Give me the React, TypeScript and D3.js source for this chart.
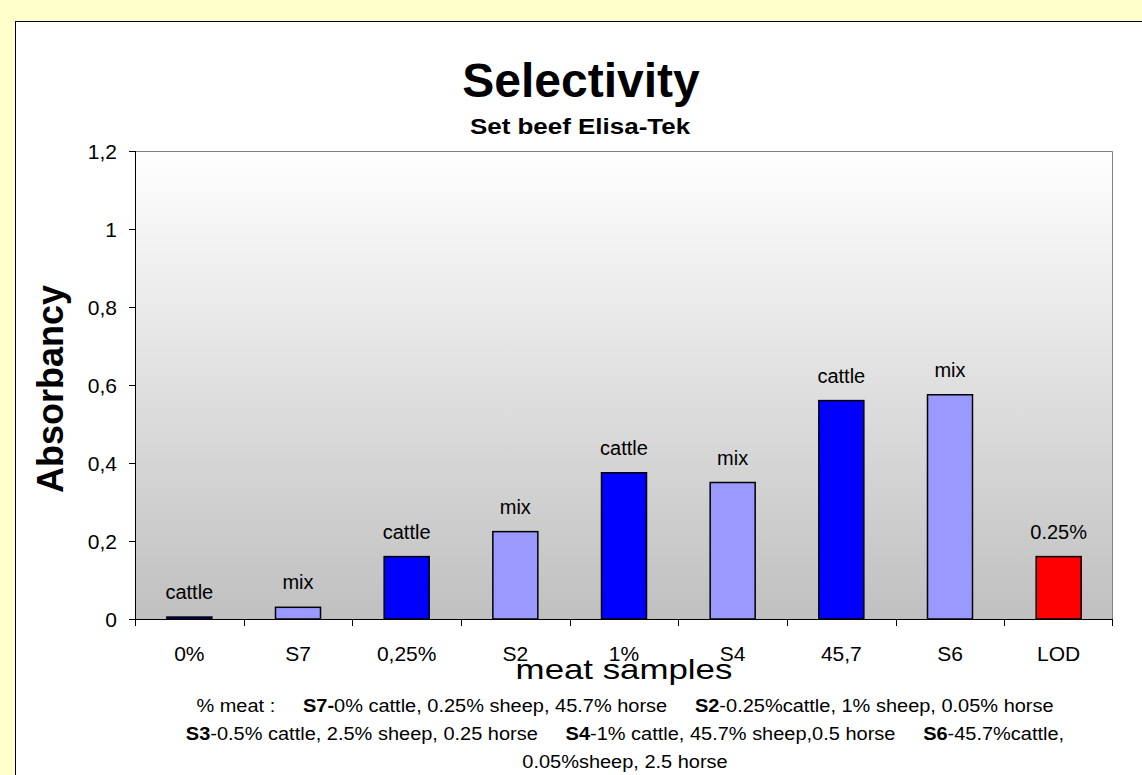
// bar chart: selectivity of the beef Elisa-Tek set
import React from 'react';
import * as d3 from 'd3';

const categories = ['0%', 'S7', '0,25%', 'S2', '1%', 'S4', '45,7', 'S6', 'LOD'];
const absorbancy = [0.005, 0.03, 0.16, 0.224, 0.375, 0.35, 0.56, 0.575, 0.16];
const barLabels = ['cattle', 'mix', 'cattle', 'mix', 'cattle', 'mix', 'cattle', 'mix', '0.25%'];
const barKinds = ['cattle', 'mix', 'cattle', 'mix', 'cattle', 'mix', 'cattle', 'mix', 'lod'];
const yTicks = [0, 0.2, 0.4, 0.6, 0.8, 1, 1.2];

// footnote lines, [text, bold] pieces
const notes = [
    [['% meat :     ', false], ['S7-', true], ['0% cattle, 0.25% sheep, 45.7% horse     ', false], ['S2', true], ['-0.25%cattle, 1% sheep, 0.05% horse', false]],
    [['S3', true], ['-0.5% cattle, 2.5% sheep, 0.25 horse     ', false], ['S4', true], ['-1% cattle, 45.7% sheep,0.5 horse     ', false], ['S6', true], ['-45.7%cattle,', false]],
    [['0.05%sheep, 2.5 horse', false]],
];

const W = 1142;
const H = 775;
const FONT = "'Liberation Sans', Arial, sans-serif";

export default function App() {
    // plot area
    const left = 135, right = 1113, top = 151, bottom = 619;

    const x = d3.scaleBand().domain(categories).range([left, right]).padding(0);
    const y = d3.scaleLinear().domain([0, 1.2]).range([bottom, top]);
    const barW = 45;
    const color = d3.scaleOrdinal().domain(['cattle', 'mix', 'lod']).range(['#0000FF', '#9999FF', '#FF0000']);
    const fmt = (v) => d3.format('~g')(v).replace('.', ',');
    const cx = (left + right) / 2;

    return (
        <svg width={W} height={H} style={{ position: 'absolute', left: 0, top: 0, display: 'block' }} fontFamily={FONT}>
            <defs>
                <linearGradient id="plotbg" x1="0" y1="0" x2="0" y2="1">
                    <stop offset="0%" stopColor="#FFFFFF" />
                    <stop offset="100%" stopColor="#C0C0C0" />
                </linearGradient>
            </defs>
            <rect x={0} y={0} width={W} height={H} fill="#FFFFCC" />
            <rect x={15.5} y={21.5} width={W + 20} height={H + 20} fill="#FFFFFF" stroke="#000" strokeWidth={1} />

            {/* titles */}
            <text x={581} y={97} textAnchor="middle" fontSize={48} fontWeight="bold">Selectivity</text>
            <text transform={`translate(580,134) scale(1.18,1)`} textAnchor="middle" fontSize={22} fontWeight="bold">Set beef Elisa-Tek</text>

            {/* plot background */}
            <rect x={left} y={top} width={right - left} height={bottom - top} fill="url(#plotbg)" />
            <path d={`M${left},${top + 0.5}H${right - 0.5}V${bottom}`} fill="none" stroke="#808080" strokeWidth={1} />

            {/* bars */}
            {categories.map((c, i) => {
                const bx = x(c) + x.bandwidth() / 2 - barW / 2;
                const by = y(absorbancy[i]);
                return (
                    <g key={c}>
                        <rect x={bx} y={by} width={barW} height={bottom - by} fill={color(barKinds[i])} stroke="#000" strokeWidth={1.5} />
                        <text x={x(c) + x.bandwidth() / 2} y={by - 18} textAnchor="middle" fontSize={20} fill="#000">{barLabels[i]}</text>
                    </g>
                );
            })}

            {/* y axis */}
            <line x1={left + 0.5} x2={left + 0.5} y1={top} y2={bottom + 6} stroke="#000" />
            {yTicks.map((t) => (
                <g key={t}>
                    <line x1={left - 6} x2={left} y1={Math.round(y(t)) + 0.5} y2={Math.round(y(t)) + 0.5} stroke="#000" />
                    <text x={117} y={y(t) + 7.5} textAnchor="end" fontSize={21} fill="#000">{fmt(t)}</text>
                </g>
            ))}

            {/* x axis */}
            <line x1={left} x2={right} y1={bottom + 0.5} y2={bottom + 0.5} stroke="#000" />
            {categories.map((c) => (
                <line key={'t' + c} x1={Math.round(x(c)) + 0.5} x2={Math.round(x(c)) + 0.5} y1={bottom} y2={bottom + 7} stroke="#000" />
            ))}
            <line x1={right - 0.5} x2={right - 0.5} y1={bottom} y2={bottom + 7} stroke="#000" />
            {categories.map((c) => (
                <text key={'l' + c} x={x(c) + x.bandwidth() / 2} y={660.5} textAnchor="middle" fontSize={21} fill="#000">{c}</text>
            ))}

            {/* axis titles */}
            <text transform={`translate(63,389) rotate(-90)`} textAnchor="middle" fontSize={36} fontWeight="bold">Absorbancy</text>
            <text transform={`translate(${cx},679) scale(1.29,1)`} textAnchor="middle" fontSize={27} fill="#000">meat samples</text>

            {/* footnote */}
            {notes.map((line, i) => (
                <text key={'n' + i} transform={`translate(625,${711.7 + i * 28.3}) scale(1.08,1)`} textAnchor="middle" fontSize={18.5} fill="#000" xmlSpace="preserve" style={{ whiteSpace: 'pre' }}>
                    {line.map(([s, b], j) => (
                        <tspan key={j} fontWeight={b ? 'bold' : 'normal'}>{s}</tspan>
                    ))}
                </text>
            ))}
        </svg>
    );
}
